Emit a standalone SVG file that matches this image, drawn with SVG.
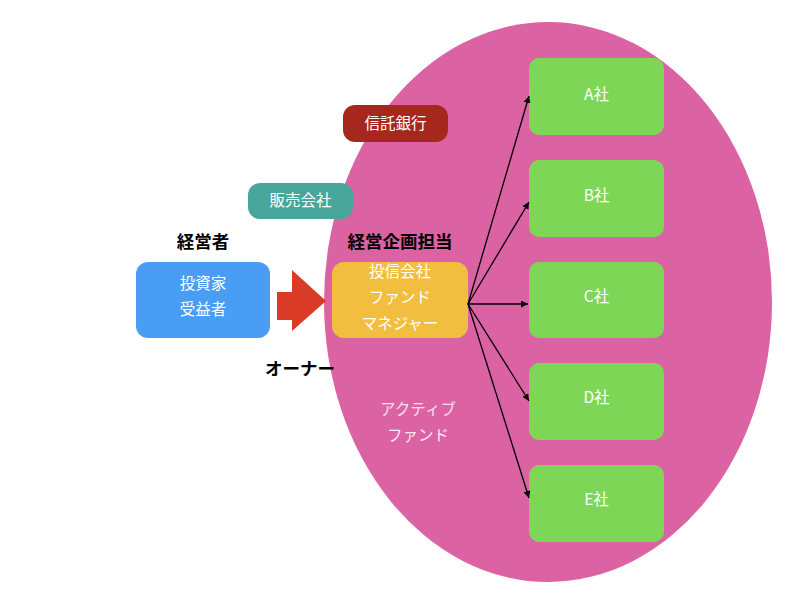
<svg xmlns="http://www.w3.org/2000/svg" width="800" height="600" viewBox="0 0 800 600">
<defs>
<style>
.t{font-family:"Noto Sans CJK JP","Liberation Sans",sans-serif;fill:#fff;font-size:15.5px;text-anchor:middle;dominant-baseline:central}
.b{font-family:"Noto Sans CJK JP","Liberation Sans",sans-serif;fill:#000;font-size:17.5px;font-weight:bold;text-anchor:middle;dominant-baseline:central}
.co{fill:#7ED657}
.cn line{stroke:#000;stroke-width:1.3;marker-end:url(#ah)}
</style>
<marker id="ah" viewBox="0 0 10 10" refX="10" refY="5" markerWidth="7" markerHeight="7" orient="auto" markerUnits="userSpaceOnUse"><path d="M0,0 L10,5 L0,10 z" fill="#000"/></marker>
</defs>
<rect width="800" height="600" fill="#fff"/>
<g id="fund"><ellipse cx="548" cy="302" rx="224" ry="280" fill="#DC63A3"/>
<text class="t" x="418" y="408" fill-opacity="0.8">アクティブ</text>
<text class="t" x="418" y="434" fill-opacity="0.9">ファンド</text></g>
<g id="trust"><rect x="343" y="105" width="105" height="37" rx="12" fill="#A6281C"/><text class="t" x="395.5" y="121.5">信託銀行</text></g>
<g id="sales"><rect x="248" y="183" width="105" height="36" rx="12" fill="#48A79A"/><text class="t" x="300.5" y="199">販売会社</text></g>
<g id="investor"><text class="b" x="203" y="240">経営者</text><rect x="136" y="262" width="134" height="76" rx="12" fill="#4A9DF4"/><text class="t" x="203" y="282">投資家</text><text class="t" x="203" y="308">受益者</text><text class="b" x="300" y="367">オーナー</text></g>
<g id="bigarrow"><path d="M277,292 H292 V270 L326,301 L292,331 V320 H277 Z" fill="#DA3B27"/></g>
<g id="manager"><text class="b" x="400" y="240">経営企画担当</text><rect x="332" y="262" width="136" height="76" rx="12" fill="#F2BE3F"/><text class="t" x="400" y="270">投信会社</text><text class="t" x="400" y="296">ファンド</text><text class="t" x="400" y="322">マネジャー</text></g>
<g id="A"><rect class="co" x="529" y="58" width="135" height="77" rx="10"/><text class="t" x="596.5" y="93">A社</text></g>
<g id="B"><rect class="co" x="529" y="160" width="135" height="77" rx="10"/><text class="t" x="596.5" y="194">B社</text></g>
<g id="C"><rect class="co" x="529" y="262" width="135" height="76" rx="10"/><text class="t" x="596.5" y="295">C社</text></g>
<g id="D"><rect class="co" x="529" y="363" width="135" height="77" rx="10"/><text class="t" x="596.5" y="396">D社</text></g>
<g id="E"><rect class="co" x="529" y="465" width="135" height="77" rx="10"/><text class="t" x="596.5" y="498">E社</text></g>
<g class="cn" id="connectors">
<line x1="468" y1="304" x2="529" y2="96"/>
<line x1="468" y1="304" x2="529" y2="202"/>
<line x1="468" y1="304" x2="528" y2="304"/>
<line x1="468" y1="304" x2="529" y2="401"/>
<line x1="468" y1="304" x2="529" y2="498"/>
</g>
</svg>
